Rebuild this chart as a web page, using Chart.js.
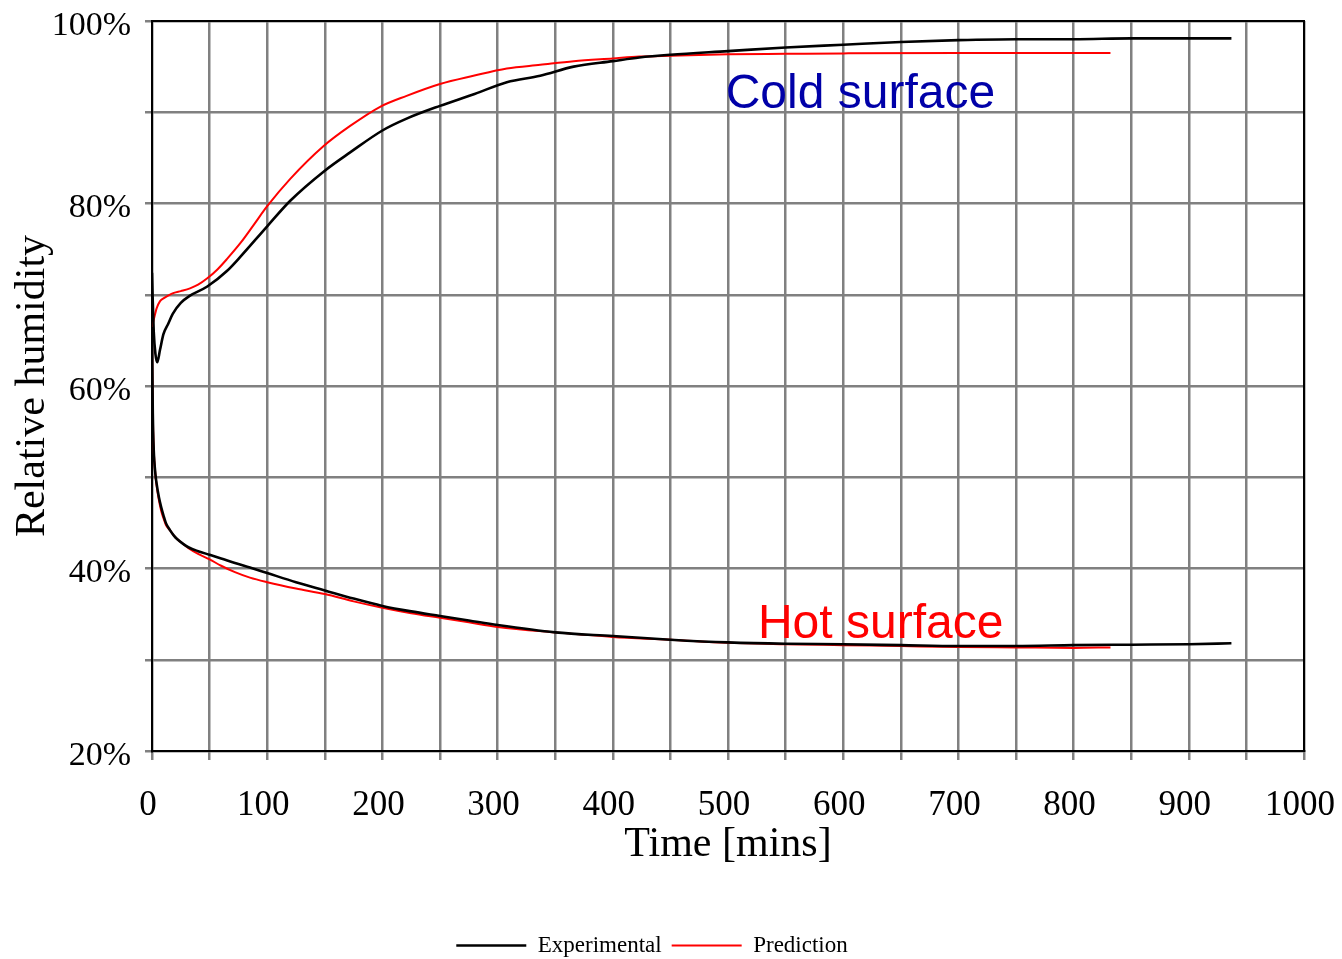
<!DOCTYPE html>
<html>
<head>
<meta charset="utf-8">
<script src="https://cdn.jsdelivr.net/npm/chart.js@4.4.1/dist/chart.umd.min.js"></script>
<style>
html,body{margin:0;padding:0;background:#fff;}
#wrap{width:1342px;height:959px;position:relative;}
</style>
</head>
<body>
<div id="wrap"><canvas id="c"></canvas></div>
<script>
// ---- data (time in minutes, relative humidity in %) ----
const coldExpTime = [0, 0.5, 1.5, 3, 4.5, 7, 10, 14, 18, 25, 33, 48, 65, 77, 100, 120, 150, 172, 200, 221, 250, 280, 308, 337, 366, 400, 423, 450, 500, 550, 600, 650, 700, 750, 800, 850, 900, 937];
const coldExpRH   = [72.4, 70, 66, 63.5, 62.6, 64, 65.7, 66.8, 67.9, 69.1, 69.9, 70.9, 72.6, 74.2, 77.5, 80.3, 83.6, 85.6, 88.0, 89.3, 90.7, 92.0, 93.3, 94.0, 95.0, 95.6, 96.0, 96.3, 96.7, 97.1, 97.4, 97.7, 97.9, 98.0, 98.0, 98.1, 98.1, 98.1];

const coldPredTime = [0, 1.4, 4, 7, 10, 14, 19, 25, 33, 40, 48, 57, 65, 77, 88, 100, 120, 149, 172, 198, 221, 250, 279, 308, 337, 366, 400, 423, 450, 500, 550, 600, 700, 832];
const coldPredRH   = [66.5, 67.2, 68.5, 69.3, 69.6, 69.9, 70.2, 70.4, 70.7, 71.1, 71.8, 72.8, 73.9, 75.7, 77.6, 79.7, 82.7, 86.3, 88.5, 90.6, 91.8, 93.1, 94.0, 94.8, 95.2, 95.6, 95.9, 96.1, 96.2, 96.35, 96.4, 96.45, 96.5, 96.5];

const hotExpTime = [0, 0.3, 0.7, 1, 1.5, 2, 3, 4, 6, 8, 10, 12, 15.6, 19, 22, 27, 32, 40, 50, 60, 72, 85, 100, 125, 150, 175, 200, 225, 250, 275, 300, 350, 400, 450, 500, 550, 600, 650, 700, 750, 800, 850, 900, 937];
const hotExpRH   = [68, 62, 57, 55, 53, 51.8, 50.3, 49.3, 47.8, 46.7, 45.8, 45.0, 44.2, 43.6, 43.2, 42.7, 42.3, 41.9, 41.5, 41.1, 40.6, 40.1, 39.5, 38.5, 37.6, 36.7, 35.9, 35.3, 34.8, 34.3, 33.8, 33.0, 32.6, 32.2, 31.9, 31.75, 31.7, 31.6, 31.5, 31.5, 31.6, 31.65, 31.7, 31.8];

const hotPredTime = [0, 0.3, 0.7, 1, 1.5, 2, 3, 4, 6, 8, 10, 12, 15.6, 19, 22, 27, 32, 40, 50, 60, 72, 85, 100, 125, 150, 175, 200, 225, 250, 275, 300, 350, 400, 450, 500, 550, 600, 650, 700, 750, 800, 832];
const hotPredRH   = [66.5, 61, 57, 55, 53, 51.8, 50.2, 49.1, 47.5, 46.3, 45.5, 44.8, 44.2, 43.6, 43.2, 42.7, 42.2, 41.6, 41.0, 40.3, 39.6, 39.0, 38.5, 37.8, 37.2, 36.4, 35.7, 35.1, 34.6, 34.1, 33.6, 33.0, 32.5, 32.2, 31.85, 31.7, 31.6, 31.5, 31.4, 31.35, 31.3, 31.35];

const seriesNames = ['Experimental', 'Prediction'];
const annotationTexts = ['Cold surface', 'Hot surface'];
const xTitle = 'Time [mins]';
const yTitle = 'Relative humidity';

// ---- helpers ----
const pts = (t, v) => t.map((x, i) => ({x: x, y: v[i]}));
const SERIF = '"Liberation Serif", "Times New Roman", serif';
const SANS = '"Liberation Sans", Arial, sans-serif';

const framePlugin = {
  id: 'frame',
  afterDraw(chart) {
    const {ctx, chartArea: a} = chart;
    ctx.save();
    ctx.strokeStyle = '#000';
    ctx.lineWidth = 2;
    ctx.beginPath();
    ctx.moveTo(a.left, a.top);
    ctx.lineTo(a.right, a.top);
    ctx.lineTo(a.right, a.bottom);
    ctx.stroke();
    ctx.restore();
  }
};

const labelPlugin = {
  id: 'curveLabels',
  afterDatasetsDraw(chart) {
    const {ctx, scales: {x, y}} = chart;
    ctx.save();
    ctx.font = '48px ' + SANS;
    ctx.textBaseline = 'alphabetic';
    ctx.textAlign = 'left';
    ctx.fillStyle = '#0000A8';
    ctx.fillText(annotationTexts[0], x.getPixelForValue(498), y.getPixelForValue(90.45));
    ctx.fillStyle = '#FF0000';
    ctx.fillText(annotationTexts[1], x.getPixelForValue(526), y.getPixelForValue(32.38));
    ctx.restore();
  }
};

const legendShift = {
  id: 'legendShift',
  afterLayout(chart) {
    if (chart.legend) {
      chart.legend.top += 8;
      chart.legend.bottom += 8;
    }
  }
};

const lineDs = (label, data, color, width) => ({
  label: label,
  data: data,
  borderColor: color,
  backgroundColor: color,
  borderWidth: width,
  pointRadius: 0,
  fill: false,
  cubicInterpolationMode: 'monotone'
});

new Chart(document.getElementById('c'), {
  type: 'line',
  data: {
    datasets: [
      lineDs(seriesNames[0], pts(coldExpTime, coldExpRH), '#000000', 2.6),
      lineDs(seriesNames[1], pts(coldPredTime, coldPredRH), '#FF0000', 2),
      lineDs(seriesNames[0] + ' (hot)', pts(hotExpTime, hotExpRH), '#000000', 2.6),
      lineDs(seriesNames[1] + ' (hot)', pts(hotPredTime, hotPredRH), '#FF0000', 2)
    ]
  },
  options: {
    responsive: true,
    maintainAspectRatio: false,
    animation: false,
    layout: {padding: {left: 0, right: 38, top: 21, bottom: 0}},
    scales: {
      x: {
        type: 'linear',
        min: 0,
        max: 1000,
        afterFit(s) { s.height = 165; s.paddingLeft = 0; s.paddingRight = 0; },
        ticks: {
          stepSize: 50,
          autoSkip: false,
          maxRotation: 0,
          padding: 25,
          labelOffset: -4,
          color: '#000',
          font: {family: SERIF, size: 35},
          callback: v => (v % 100 === 0 ? String(v) : '')
        },
        grid: {color: '#808080', lineWidth: 2.5, tickLength: 9, drawTicks: true},
        border: {color: '#000', width: 2},
        title: {display: true, text: xTitle, color: '#000', font: {family: SERIF, size: 42}, padding: {top: 0, bottom: 46}}
      },
      y: {
        min: 20,
        max: 100,
        afterFit(s) { s.width = 152; s.paddingTop = 0; s.paddingBottom = 0; },
        ticks: {
          stepSize: 10,
          padding: 14,
          labelOffset: 5,
          color: '#000',
          font: {family: SERIF, size: 34},
          callback: v => (v % 20 === 0 ? v + '%' : '')
        },
        grid: {color: '#808080', lineWidth: 2.5, tickLength: 7, drawTicks: true},
        border: {color: '#000', width: 2},
        title: {display: true, text: yTitle, color: '#000', font: {family: SERIF, size: 42}, padding: {top: 8, bottom: 0}}
      }
    },
    plugins: {
      legend: {
        position: 'bottom',
        labels: {
          usePointStyle: true,
          pointStyle: 'line',
          pointStyleWidth: 70,
          padding: 10,
          color: '#000',
          font: {family: SERIF, size: 23},
          filter: item => item.datasetIndex < 2
        }
      },
      tooltip: {enabled: false}
    }
  },
  plugins: [framePlugin, labelPlugin, legendShift]
});
</script>
</body>
</html>
